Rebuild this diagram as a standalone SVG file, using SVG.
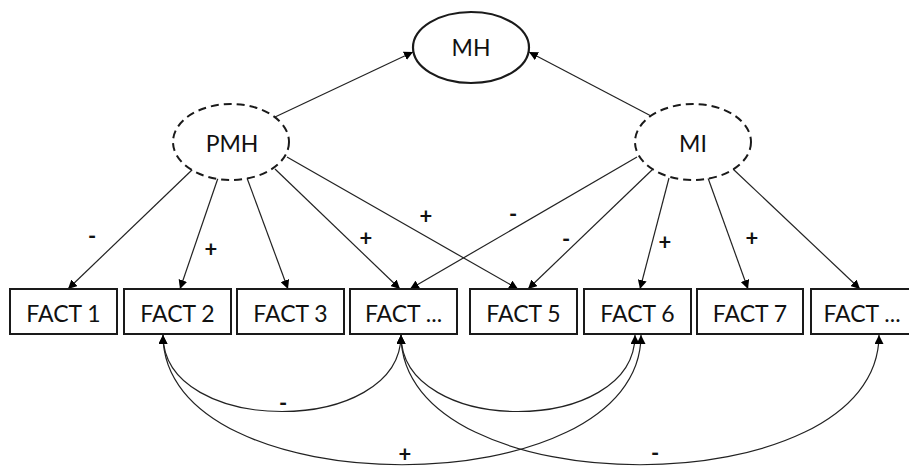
<svg xmlns="http://www.w3.org/2000/svg" width="909" height="468" viewBox="0 0 909 468">
<defs>
<marker id="ah" viewBox="0 0 10 10" refX="10" refY="5" markerWidth="9" markerHeight="9" markerUnits="userSpaceOnUse" orient="auto-start-reverse">
<path d="M0,0 L10,5 L0,10 z" fill="#000"/>
</marker>
</defs>
<style>
.box{fill:#fff;stroke:#1a1a1a;stroke-width:2}
.lat{fill:#fff;stroke:#1a1a1a;stroke-width:2;stroke-dasharray:8 5}
.obs{fill:#fff;stroke:#1a1a1a;stroke-width:2.2}
.t{font-family:Lato,"Open Sans","Liberation Sans",sans-serif;font-size:23px;fill:#111;text-anchor:middle}
.s{font-family:Lato,"Liberation Sans",sans-serif;font-size:22px;font-weight:bold;fill:#111;text-anchor:middle}
.c line,.c path{stroke:#222;stroke-width:1.2;fill:none}
</style>
<g class="c" id="connectors">
<line x1="275" y1="117" x2="413" y2="52" marker-end="url(#ah)"/>
<line x1="653" y1="117" x2="529" y2="52" marker-end="url(#ah)"/>
<line x1="193" y1="169" x2="68" y2="289" marker-end="url(#ah)"/>
<line x1="218" y1="178" x2="180" y2="289" marker-end="url(#ah)"/>
<line x1="247" y1="178" x2="288" y2="289" marker-end="url(#ah)"/>
<line x1="275" y1="169" x2="400" y2="289" marker-end="url(#ah)"/>
<line x1="287" y1="157" x2="518" y2="289" marker-end="url(#ah)"/>
<line x1="637" y1="157" x2="410" y2="289" marker-end="url(#ah)"/>
<line x1="653" y1="169" x2="528" y2="289" marker-end="url(#ah)"/>
<line x1="669" y1="178" x2="640" y2="289" marker-end="url(#ah)"/>
<line x1="708" y1="178" x2="748" y2="289" marker-end="url(#ah)"/>
<line x1="733" y1="169" x2="860" y2="289" marker-end="url(#ah)"/>
<path d="M163,335 C163,437 401,437 401,335" marker-start="url(#ah)" marker-end="url(#ah)"/>
<path d="M163,335 C163,508 641,508 641,335" marker-start="url(#ah)" marker-end="url(#ah)"/>
<path d="M401,335 C401,437 635,437 635,335" marker-start="url(#ah)" marker-end="url(#ah)"/>
<path d="M401,335 C401,508 879,508 879,335" marker-start="url(#ah)" marker-end="url(#ah)"/>
</g>
<g id="MH"><ellipse class="obs" cx="471" cy="47.5" rx="58" ry="35.5"/><text class="t" x="471" y="56">MH</text></g>
<g id="PMH"><ellipse class="lat" cx="231" cy="142" rx="58" ry="38"/><text class="t" x="232" y="152">PMH</text></g>
<g id="MI"><ellipse class="lat" cx="693" cy="142" rx="58" ry="38"/><text class="t" x="693" y="152">MI</text></g>
<g id="F1"><rect class="box" x="10" y="289" width="107" height="45"/><text class="t" x="63.5" y="322">FACT 1</text></g>
<g id="F2"><rect class="box" x="124" y="289" width="107" height="45"/><text class="t" x="177.5" y="322">FACT 2</text></g>
<g id="F3"><rect class="box" x="237" y="289" width="107" height="45"/><text class="t" x="290.5" y="322">FACT 3</text></g>
<g id="F4"><rect class="box" x="350" y="289" width="107" height="45"/><text class="t" x="403.5" y="322">FACT ...</text></g>
<g id="F5"><rect class="box" x="470" y="289" width="107" height="45"/><text class="t" x="523.5" y="322">FACT 5</text></g>
<g id="F6"><rect class="box" x="584" y="289" width="107" height="45"/><text class="t" x="637.5" y="322">FACT 6</text></g>
<g id="F7"><rect class="box" x="697" y="289" width="106" height="45"/><text class="t" x="750" y="322">FACT 7</text></g>
<g id="F8"><rect class="box" x="811" y="289" width="107" height="45"/><text class="t" x="862" y="322">FACT ...</text></g>
<g id="labels">
<text class="s" x="92" y="244">-</text>
<text class="s" x="211" y="257">+</text>
<text class="s" x="366" y="246">+</text>
<text class="s" x="426" y="224">+</text>
<text class="s" x="513" y="222">-</text>
<text class="s" x="566" y="247">-</text>
<text class="s" x="665" y="250">+</text>
<text class="s" x="752" y="246">+</text>
<text class="s" x="283" y="411">-</text>
<text class="s" x="405" y="462">+</text>
<text class="s" x="655" y="461">-</text>
</g>
</svg>
